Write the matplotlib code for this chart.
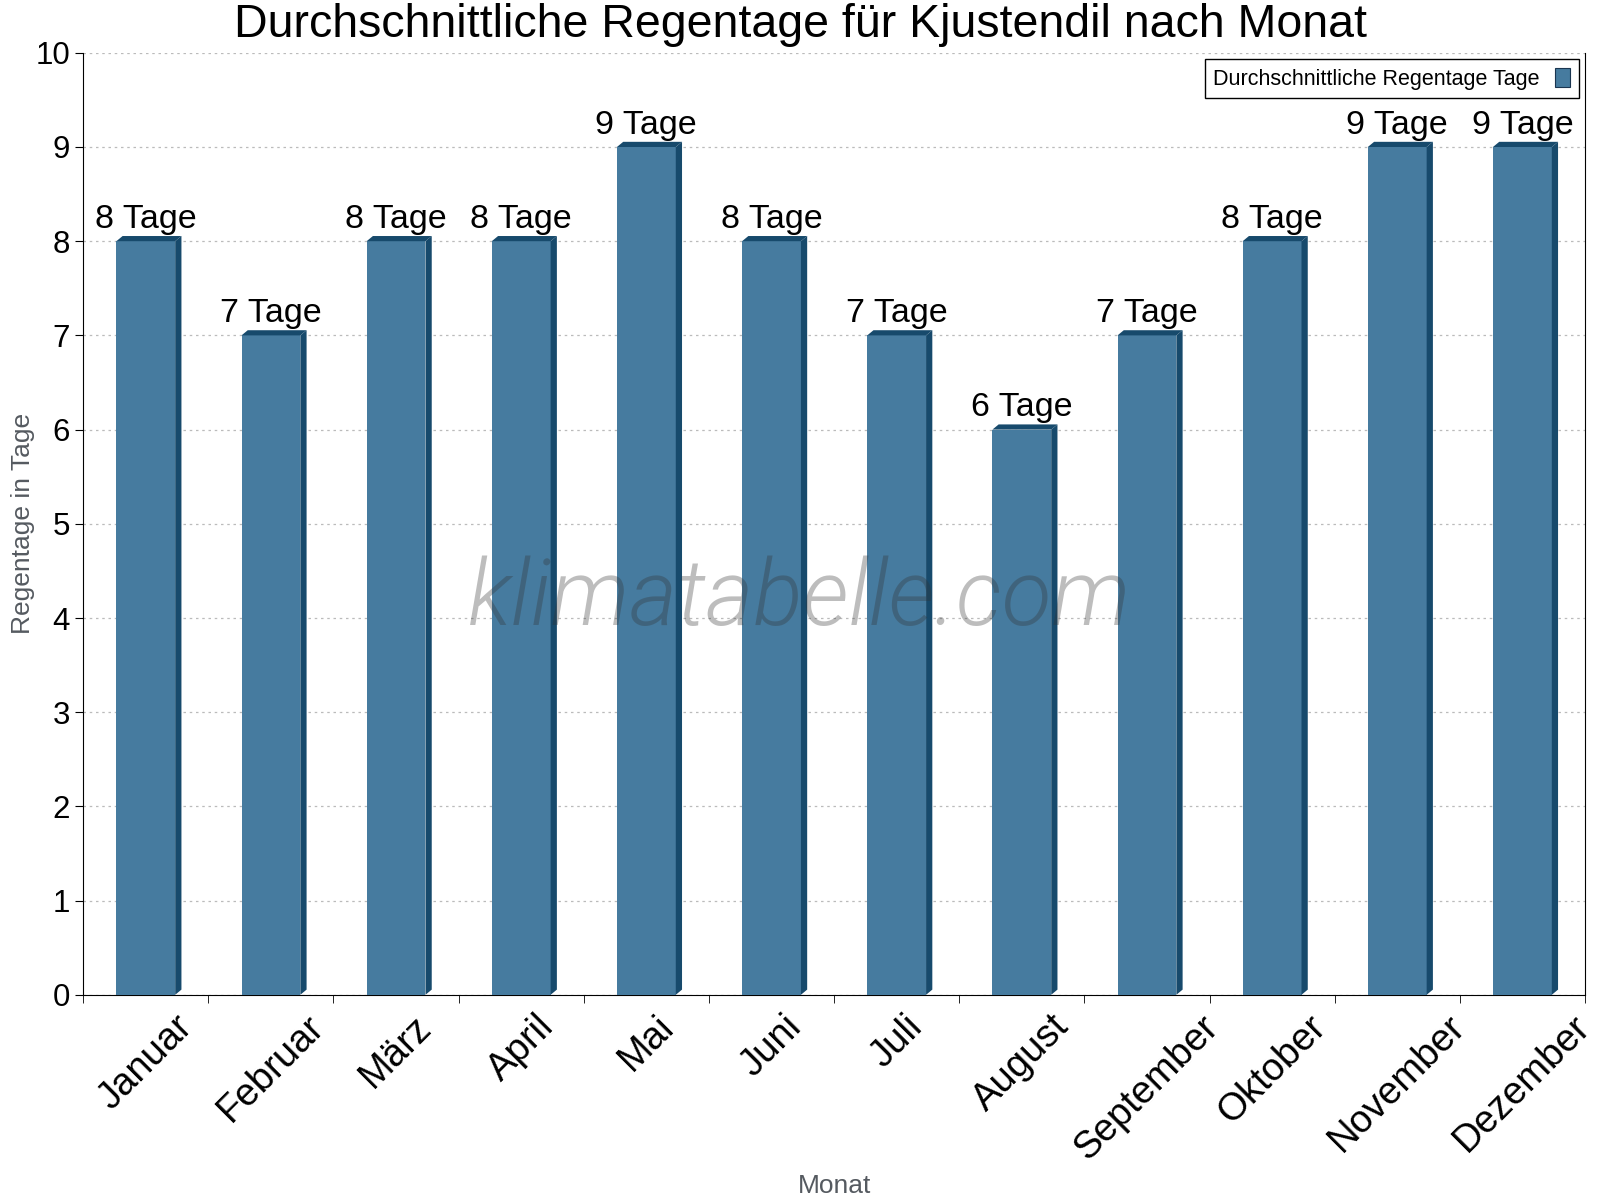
import numpy as np
import matplotlib
matplotlib.use("Agg")
import matplotlib.pyplot as plt
from matplotlib.patches import Polygon, Rectangle, Patch

plt.rcParams['font.family'] = ['Liberation Sans', 'DejaVu Sans']

months = ["Januar", "Februar", "März", "April", "Mai", "Juni", "Juli",
          "August", "September", "Oktober", "November", "Dezember"]
rain_days = [8, 7, 8, 8, 9, 8, 7, 6, 7, 8, 9, 9]
bar_labels = [f"{v} Tage" for v in rain_days]

front = "#467b9f"
dark = "#174a6c"

fig = plt.figure(figsize=(16, 12), dpi=100)
ax = fig.add_axes([0.052, 0.171, 0.9386, 0.785])

w = 0.47
dx = 0.05   # depth in x (data units)
dy = 0.055  # depth in y (data units)
x = np.arange(len(months))
for xi, v, lab in zip(x, rain_days, bar_labels):
    x0, x1 = xi - w / 2, xi + w / 2
    ax.add_patch(Rectangle((x0, 0), w, v, facecolor=front, edgecolor="none", zorder=3))
    # side face
    ax.add_patch(Polygon([(x1, 0), (x1 + dx, dy), (x1 + dx, v + dy), (x1, v)],
                         closed=True, facecolor=dark, edgecolor="none", zorder=3))
    # top face
    ax.add_patch(Polygon([(x0, v), (x0 + dx, v + dy), (x1 + dx, v + dy), (x1, v)],
                         closed=True, facecolor=dark, edgecolor="none", zorder=3))
    ax.text(xi, v + dy + 0.01, lab, ha="center", va="bottom", fontsize=24.5, zorder=5)

ax.set_xlim(-0.5, 11.5)
ax.set_ylim(0, 10)
ax.set_yticks(range(0, 11))
ax.tick_params(axis="y", labelsize=22.5, length=6, direction="out")

ax.set_xticks(x)
ax.set_xticklabels(months, rotation=45, ha="center", va="top", fontsize=27.5)
ax.set_xticks(np.arange(-0.5, 12, 1), minor=True)
ax.tick_params(axis="x", which="major", length=0, pad=10)
ax.tick_params(axis="x", which="minor", length=6, direction="out")

ax.grid(axis="y", linestyle=(0, (2, 3)), color="#bbbbbb", linewidth=0.9, zorder=0)
ax.set_axisbelow(True)
ax.spines["top"].set_visible(False)

ax.set_ylabel("Regentage in Tage", fontsize=19, color="#555a60")
ax.yaxis.set_label_coords(-0.032, 0.5)
ax.set_xlabel("Monat", fontsize=19, color="#555a60")
ax.xaxis.set_label_coords(0.5, -0.19)

fig.text(0.5, 1 - 25 / 1200, "Durchschnittliche Regentage für Kjustendil nach Monat",
         ha="center", va="center", fontsize=33.5)

leg = ax.legend(handles=[Patch(facecolor=front, edgecolor="#1a3550", linewidth=0.8,
                               label="Durchschnittliche Regentage Tage")],
                loc="upper right", fontsize=15.5, markerfirst=False, fancybox=False,
                framealpha=1, edgecolor="black", handlelength=0.7, handleheight=1.0,
                borderaxespad=0.3, borderpad=0.4, handletextpad=0.7)
leg.get_frame().set_linewidth(1.0)

fig.text(0.5, 0.5, "klimatabelle.com", ha="center", va="center", fontsize=66,
         family="Roboto", fontweight=300, style="italic", color="#333333",
         alpha=0.32, zorder=10)

fig.savefig("out.png", dpi=100)
